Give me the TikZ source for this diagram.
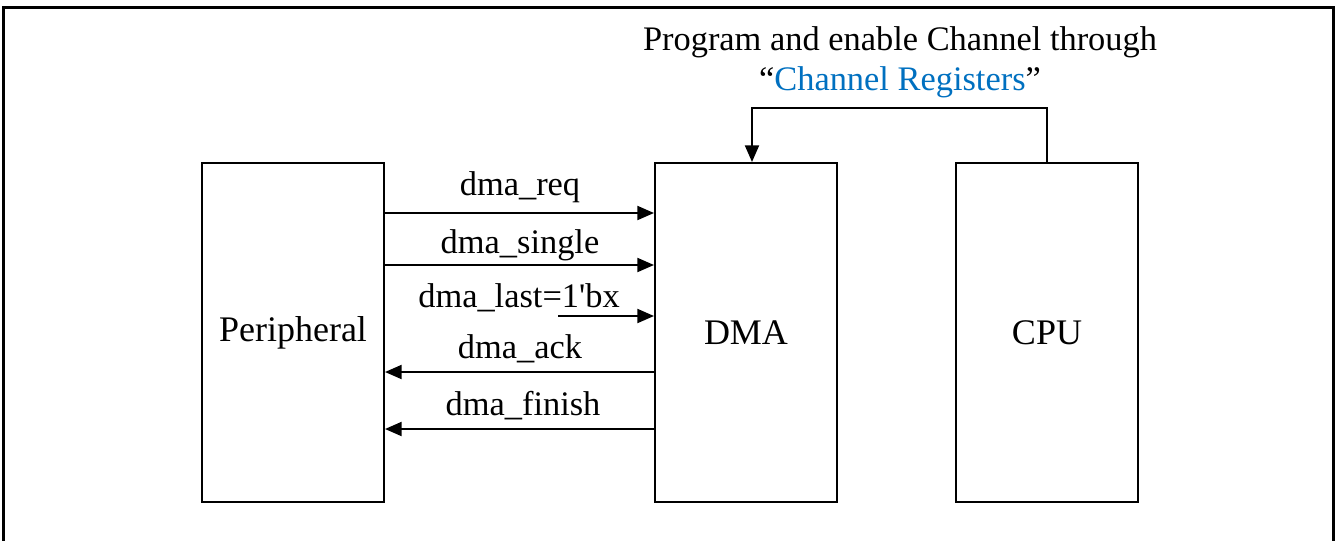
\documentclass[tikz,border=0pt]{standalone}
\usepackage{fontspec}
\setmainfont{Liberation Serif}
\usepackage{xcolor}
\usepackage{tikz}
\usetikzlibrary{arrows.meta}

\definecolor{regblue}{RGB}{0,112,192}

\tikzset{
  blk/.style={draw, line width=1.5pt, minimum width=136.5pt, minimum height=254.25pt, inner sep=0pt, font=\fontsize{27}{32}\selectfont},
  sig/.style={line width=1.5pt, -{Triangle[length=12.5pt,width=10.5pt]}},
  lbl/.style={anchor=base, inner sep=0.75pt}
}

\begin{document}
\begin{tikzpicture}[x=0.75pt,y=0.75pt,yscale=-1,xscale=1,font=\fontsize{25.8}{31}\selectfont]

\useasboundingbox (0,0) rectangle (1336,540);

% frame
\draw [line width=2.25pt]  (3,545) -- (3,7) -- (1333,7) -- (1333,545) ;

% blocks
\node [blk] (per) at (293,332.5) {Peripheral};
\node [blk] (dma) at (746,332.5) {DMA};
\node [blk] (cpu) at (1047,332.5) {CPU};

% handshake signals
\draw [sig]  (per.east |- 0,213) -- (dma.west |- 0,213) ;
\draw [sig]  (per.east |- 0,265) -- (dma.west |- 0,265) ;
\coordinate (lastfrom) at (558,316);
\draw [sig]  (lastfrom) -- (dma.west |- lastfrom) ;
\draw [sig]  (dma.west |- 0,372) -- (per.east |- 0,372) ;
\draw [sig]  (dma.west |- 0,429) -- (per.east |- 0,429) ;

\node [lbl] (reqlbl) at (520,195) {dma\_req};
\node [lbl] (singlelbl) at (520,253) {dma\_single};
\node [lbl] (lastlbl) at (519,307) {dma\_last=1\textquotesingle bx};
\node [lbl] (acklbl) at (520,358) {dma\_ack};
\node [lbl] (finishlbl) at (523,415) {dma\_finish};

% channel programming
\coordinate (fbk) at (752,108);
\draw [sig]  (cpu.north) |- (fbk) -- (fbk |- dma.north) ;

\node [lbl] (proglbl) at (900,50) {Program and enable Channel through};
\node [lbl] (reglbl) at (900,90) {“\textcolor{regblue}{Channel Registers}”};

\end{tikzpicture}
\end{document}
